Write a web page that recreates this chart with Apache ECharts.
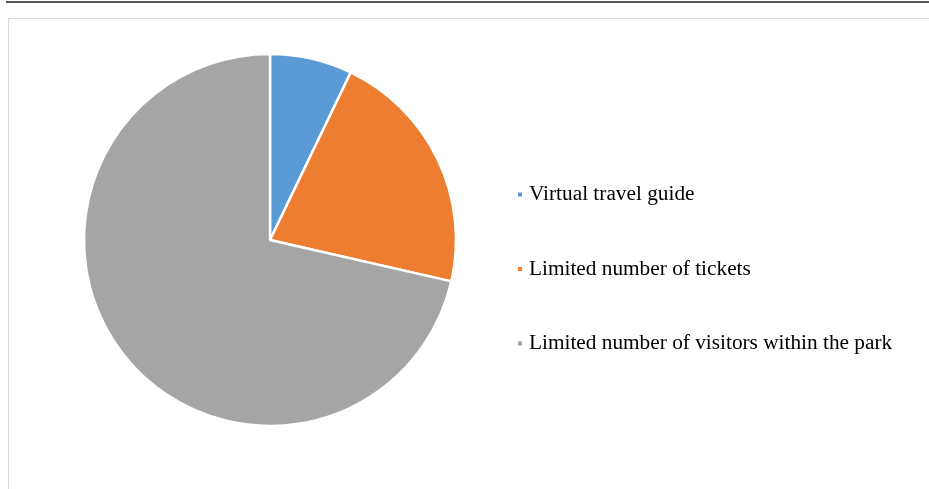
<!DOCTYPE html>
<html>
<head>
<meta charset="utf-8">
<script src="https://cdn.jsdelivr.net/npm/echarts@6/dist/echarts.min.js"></script>
<style>
  html, body { margin: 0; padding: 0; background: #fff; }
  #rule { position: absolute; left: 6px; top: 1px; width: 923px; height: 2px; background: #555; }
  #frame { position: absolute; left: 8px; top: 18px; width: 930px; height: 480px; border: 1px solid #d9d9d9; box-sizing: border-box; }
  #chart { position: absolute; left: 0; top: 0; width: 929px; height: 489px; }
</style>
</head>
<body>
<div id="rule"></div>
<div id="frame"></div>
<div id="chart"></div>
<script>
// Preferred measure for managing visitor flow (number of responses)
const categories = [
  'Virtual travel guide',
  'Limited number of tickets',
  'Limited number of visitors within the park'
];
const responses = [5, 15, 50];
const colors = ['#5b9bd5', '#ed7d31', '#a5a5a5'];

const chart = echarts.init(document.getElementById('chart'), null, { renderer: 'canvas' });

chart.setOption({
  animation: false,
  color: colors,
  legend: {
    orient: 'vertical',
    left: 511,
    top: 179,
    itemWidth: 6,
    itemHeight: 6,
    itemGap: 53.5,
    icon: 'rect',
    data: categories,
    textStyle: {
      fontFamily: 'Liberation Serif',
      fontSize: 21.3,
      color: '#000',
      padding: [0, 0, 0, 1]
    }
  },
  series: [{
    type: 'pie',
    center: [270, 240],
    radius: [0, 186],
    startAngle: 90,
    clockwise: true,
    label: { show: false },
    labelLine: { show: false },
    itemStyle: { borderColor: '#fff', borderWidth: 2.5 },
    data: categories.map((name, i) => ({ name, value: responses[i] }))
  }]
});
</script>
</body>
</html>
